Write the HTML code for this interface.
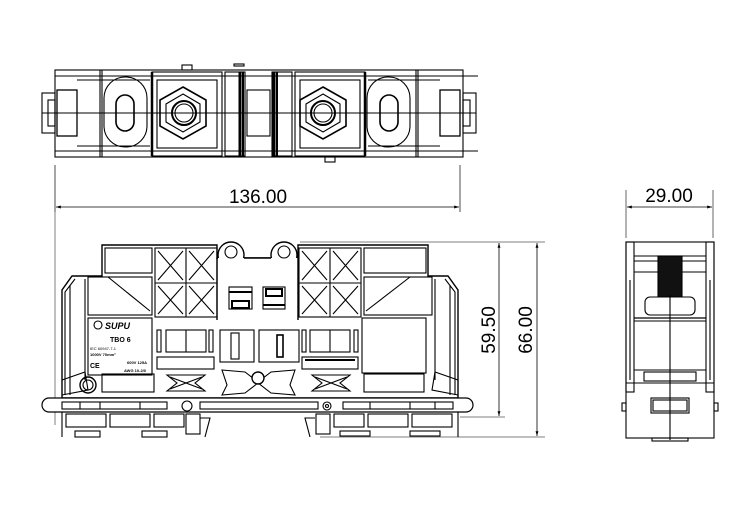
<!DOCTYPE html>
<html><head><meta charset="utf-8"><style>
html,body{margin:0;padding:0;background:#fff;}
svg{display:block}
text{font-family:"Liberation Sans",sans-serif;}
</style></head><body>
<svg width="750" height="510" viewBox="0 0 750 510" xmlns="http://www.w3.org/2000/svg">
<defs>
<marker id="ar" viewBox="0 0 10 10" refX="10" refY="5" markerWidth="8" markerHeight="6" orient="auto-start-reverse"><path d="M0,2 L10,5 L0,8 z" fill="#000"/></marker>
</defs>
<g fill="none" stroke="#000" stroke-width="1.1">
<!-- TOP VIEW -->
<rect x="55" y="70" width="408" height="87" fill="#fff"/>
<line x1="55" y1="76" x2="478" y2="76"/>
<line x1="55" y1="151" x2="478" y2="151"/>
<rect x="42" y="93" width="13" height="40"/>
<rect x="48" y="100" width="7" height="26"/>
<rect x="463" y="93" width="13" height="40"/>
<rect x="463" y="100" width="7" height="26"/>
<rect x="57" y="90" width="20" height="46" stroke-width="1.3"/>
<rect x="440" y="90" width="20" height="46" stroke-width="1.3"/>
<line x1="77" y1="80" x2="150" y2="80"/><line x1="77" y1="146" x2="150" y2="146"/>
<line x1="368" y1="80" x2="440" y2="80"/><line x1="368" y1="146" x2="440" y2="146"/>
<line x1="100" y1="70" x2="100" y2="157"/><line x1="418" y1="70" x2="418" y2="157"/>
<line x1="102" y1="70" x2="102" y2="157"/><line x1="416" y1="70" x2="416" y2="157"/>
<rect x="104" y="77" width="43" height="70" rx="21"/>
<rect x="116" y="95" width="18" height="36" rx="9" stroke-width="1.6"/>
<rect x="367" y="77" width="43" height="70" rx="21"/>
<rect x="380" y="95" width="18" height="36" rx="9" stroke-width="1.6"/>
<rect x="152" y="72" width="70" height="84"/>
<rect x="157" y="80" width="60" height="68"/>
<rect x="295" y="72" width="70" height="84"/>
<rect x="300" y="80" width="60" height="68"/>
<line x1="152" y1="72" x2="152" y2="156" stroke-width="2.5"/>
<line x1="365" y1="72" x2="365" y2="156" stroke-width="2.5"/>
<polygon points="183,87 206,100 206,126 183,139 160,126 160,100" stroke-width="1.6"/>
<polygon points="183,94 200,104 200,122 183,132 166,122 166,104"/>
<circle cx="184" cy="113" r="12" stroke-width="2"/>
<circle cx="184" cy="113" r="9"/>
<polygon points="323,87 346,100 346,126 323,139 300,126 300,100" stroke-width="1.6"/>
<polygon points="323,94 340,104 340,122 323,132 306,122 306,104"/>
<circle cx="323" cy="113" r="12" stroke-width="2"/>
<circle cx="323" cy="113" r="9"/>
<rect x="225" y="72" width="20" height="84"/>
<rect x="272" y="72" width="20" height="84"/>
<line x1="240" y1="72" x2="240" y2="156" stroke-width="3"/>
<line x1="243" y1="72" x2="243" y2="156" stroke-width="2"/>
<line x1="274" y1="72" x2="274" y2="156" stroke-width="3"/>
<line x1="277" y1="72" x2="277" y2="156" stroke-width="2"/>
<rect x="247" y="90" width="23" height="46"/>
<rect x="182" y="65" width="10" height="5"/>
<rect x="234" y="64" width="10" height="2"/>
<rect x="325" y="157" width="10" height="5"/>
<line x1="42" y1="113" x2="476" y2="113"/>

<line x1="55" y1="165" x2="55" y2="212" stroke-width="0.7"/>
<line x1="460" y1="165" x2="460" y2="212" stroke-width="0.7"/>
<line x1="56" y1="207" x2="459" y2="207" stroke-width="0.8" marker-start="url(#ar)" marker-end="url(#ar)"/>
<line x1="55" y1="212" x2="55" y2="425" stroke-width="0.5"/>

<!-- FRONT VIEW -->
<path d="M62,398 L62,290 L72,276 L102,276 L102,245 L217,245 L217,258 L298,258 L298,245 L428,245 L428,276 L448,276 L458,290 L458,398 Z" fill="#fff" stroke-width="1.4"/>
<circle cx="231" cy="255" r="13" fill="#fff" stroke-width="1.4"/>
<circle cx="284" cy="255" r="13" fill="#fff" stroke-width="1.4"/>
<rect x="218" y="258" width="80" height="70" fill="#fff" stroke="none"/>
<line x1="217" y1="258" x2="217" y2="320" stroke-width="1.4"/><line x1="298" y1="258" x2="298" y2="320" stroke-width="1.4"/>
<circle cx="231" cy="252" r="6"/><circle cx="284" cy="252" r="6"/>
<line x1="244" y1="258" x2="271" y2="258" stroke-width="1.4"/>
<path d="M65,395 L65,292 L75,279 M455,395 L455,292 L445,279"/>
<line x1="70" y1="285" x2="70" y2="395"/><line x1="450" y1="285" x2="450" y2="395"/>
<line x1="85" y1="279" x2="85" y2="380"/><line x1="435" y1="279" x2="435" y2="380"/>
<path d="M62,380 L85,372 L88,390 L62,395"/><path d="M458,380 L435,372 L432,390 L458,395"/>
<!-- upper left blocks -->
<rect x="105" y="248" width="47" height="25"/>
<rect x="88" y="277" width="64" height="38"/>
<line x1="108" y1="277" x2="150" y2="311"/>
<rect x="155" y="248" width="62" height="69"/>
<line x1="186" y1="248" x2="186" y2="317"/><line x1="155" y1="283" x2="217" y2="283"/>
<path d="M158,280 L183,251 M158,251 L183,280 M189,251 L214,280 M189,280 L214,251 M158,286 L183,314 M158,314 L183,286 M189,286 L214,314 M189,314 L214,286"/>
<!-- upper right blocks -->
<rect x="364" y="248" width="62" height="25"/>
<rect x="364" y="277" width="68" height="38"/>
<line x1="410" y1="277" x2="366" y2="311"/>
<rect x="299" y="248" width="62" height="69"/>
<line x1="330" y1="248" x2="330" y2="317"/><line x1="299" y1="283" x2="361" y2="283"/>
<path d="M302,280 L327,251 M302,251 L327,280 M333,251 L358,280 M333,280 L358,251 M302,286 L327,314 M302,314 L327,286 M333,286 L358,314 M333,314 L358,286"/>
<rect x="229" y="287" width="23" height="22"/><rect x="232" y="301" width="17" height="7" stroke-width="2"/>
<rect x="263" y="287" width="22" height="22"/><rect x="266" y="289" width="16" height="7" stroke-width="2"/>
<line x1="229" y1="292" x2="252" y2="292" stroke-width="2"/><line x1="263" y1="305" x2="285" y2="305" stroke-width="2"/>
<rect x="88" y="318" width="64" height="57"/>
<circle cx="98" cy="325" r="4"/>
<rect x="157" y="330" width="4" height="22"/><rect x="166" y="330" width="40" height="22"/><line x1="186" y1="330" x2="186" y2="352"/>
<rect x="209" y="330" width="4" height="22"/>
<rect x="157" y="357" width="57" height="12"/>
<rect x="220" y="330" width="34" height="32"/><rect x="231" y="333" width="8" height="26"/>
<rect x="259" y="330" width="40" height="32"/><rect x="277" y="335" width="6" height="22" stroke-width="1.6"/>
<rect x="302" y="330" width="4" height="22"/><rect x="310" y="330" width="40" height="22"/><line x1="330" y1="330" x2="330" y2="352"/>
<rect x="354" y="330" width="4" height="22"/>
<rect x="302" y="357" width="56" height="12"/><line x1="305" y1="360" x2="355" y2="360" stroke-width="2"/>
<rect x="362" y="318" width="64" height="55"/>
<path d="M167,375 L205,375 L195,383 L205,391 L167,391 L177,383 Z"/>
<path d="M170,377 L202,389 M170,389 L202,377"/>
<path d="M222,370 L245,372 L258,382 L271,372 L295,370 L290,385 L295,395 L271,393 L258,383 L245,393 L222,395 L227,385 Z"/>
<circle cx="258" cy="378" r="6" fill="#fff" stroke-width="1.4"/>
<path d="M312,375 L350,375 L340,383 L350,391 L312,391 L322,383 Z"/>
<path d="M315,377 L347,389 M315,389 L347,377"/>
<rect x="102" y="374" width="52" height="18"/>
<rect x="364" y="374" width="60" height="18"/>
<circle cx="88" cy="385" r="8" stroke-width="1.4"/><circle cx="88" cy="385" r="5"/>
<rect x="42" y="398" width="431" height="14" rx="7" fill="#fff" stroke-width="1.2"/>
<rect x="62" y="402" width="105" height="7"/><rect x="200" y="402" width="118" height="7"/><rect x="343" y="402" width="110" height="7"/>
<line x1="80" y1="402" x2="80" y2="409"/><line x1="100" y1="402" x2="100" y2="409"/><line x1="140" y1="402" x2="140" y2="409"/>
<line x1="370" y1="402" x2="370" y2="409"/><line x1="410" y1="402" x2="410" y2="409"/><line x1="435" y1="402" x2="435" y2="409"/>
<circle cx="187" cy="406" r="5"/><circle cx="327" cy="406" r="4"/><circle cx="327" cy="406" r="1.5"/>
<path d="M62,412 L62,437 M458,412 L458,437"/>
<rect x="66" y="414" width="40" height="13"/><rect x="110" y="414" width="40" height="13"/><rect x="154" y="414" width="30" height="13"/>
<rect x="186" y="414" width="14" height="20"/>
<path d="M200,418 L210,418 L205,437 M315,418 L305,418 L310,437"/>
<rect x="316" y="414" width="14" height="20"/>
<rect x="334" y="414" width="30" height="13"/><rect x="368" y="414" width="40" height="13"/><rect x="412" y="414" width="40" height="13"/>
<rect x="75" y="431" width="25" height="6"/><rect x="142" y="431" width="25" height="6"/>
<rect x="340" y="431" width="30" height="5"/><rect x="410" y="431" width="30" height="5"/>

<line x1="300" y1="242" x2="545" y2="242" stroke-width="0.6"/>
<line x1="460" y1="417" x2="505" y2="417" stroke-width="0.6"/>
<line x1="320" y1="437" x2="545" y2="437" stroke-width="0.6"/>
<line x1="499" y1="243" x2="499" y2="416" stroke-width="0.8" marker-start="url(#ar)" marker-end="url(#ar)"/>
<line x1="537" y1="243" x2="537" y2="436" stroke-width="0.8" marker-start="url(#ar)" marker-end="url(#ar)"/>

<!-- SIDE VIEW -->
<line x1="626" y1="190" x2="626" y2="238" stroke-width="0.6"/>
<line x1="713" y1="190" x2="713" y2="238" stroke-width="0.6"/>
<line x1="627" y1="207" x2="712" y2="207" stroke-width="0.8" marker-start="url(#ar)" marker-end="url(#ar)"/>
<rect x="626" y="242" width="88" height="196" fill="#fff"/>
<rect x="626" y="242" width="8" height="150"/><rect x="706" y="242" width="8" height="150"/>
<line x1="634" y1="256" x2="706" y2="256"/><line x1="634" y1="261" x2="706" y2="261"/>
<line x1="634" y1="272" x2="706" y2="272"/>
<line x1="630" y1="280" x2="630" y2="380"/><line x1="710" y1="280" x2="710" y2="380"/>
<rect x="658" y="256" width="24" height="41" fill="#111"/>
<rect x="645" y="297" width="50" height="18" rx="5" fill="#fff"/>
<line x1="634" y1="318" x2="706" y2="318" stroke-width="1.3"/><line x1="634" y1="321" x2="706" y2="321"/>
<line x1="634" y1="370" x2="706" y2="370"/>
<rect x="644" y="372" width="52" height="9"/>
<line x1="626" y1="383" x2="714" y2="383"/>
<rect x="651" y="398" width="38" height="15"/><rect x="653" y="400" width="34" height="11"/>
<rect x="622" y="403" width="4" height="8"/><rect x="714" y="403" width="4" height="8"/>
<rect x="652" y="438" width="36" height="3"/>
<line x1="670" y1="295" x2="670" y2="440"/>
</g>
<g fill="#000">
<text x="258" y="203" font-size="19" text-anchor="middle">136.00</text>
<text x="669" y="202" font-size="19" text-anchor="middle">29.00</text>
<text transform="translate(495,330) rotate(-90)" font-size="19" text-anchor="middle">59.50</text>
<text transform="translate(532,330) rotate(-90)" font-size="19" text-anchor="middle">66.00</text>
<text x="105" y="329" font-size="9" font-weight="bold" font-style="italic">SUPU</text>
<text x="110" y="342" font-size="7" font-weight="bold">TBO 6</text>
<text x="90" y="350" font-size="4">IEC 60947-7-1</text>
<text x="90" y="356" font-size="4" font-weight="bold">1000V 70mm²</text>
<text x="127" y="364" font-size="4" font-weight="bold">600V 125A</text>
<text x="124" y="372" font-size="4" font-weight="bold">AWG 10-2/0</text>
<text x="90" y="368" font-size="7" font-weight="bold">CE</text>
</g>
</svg>
</body></html>
